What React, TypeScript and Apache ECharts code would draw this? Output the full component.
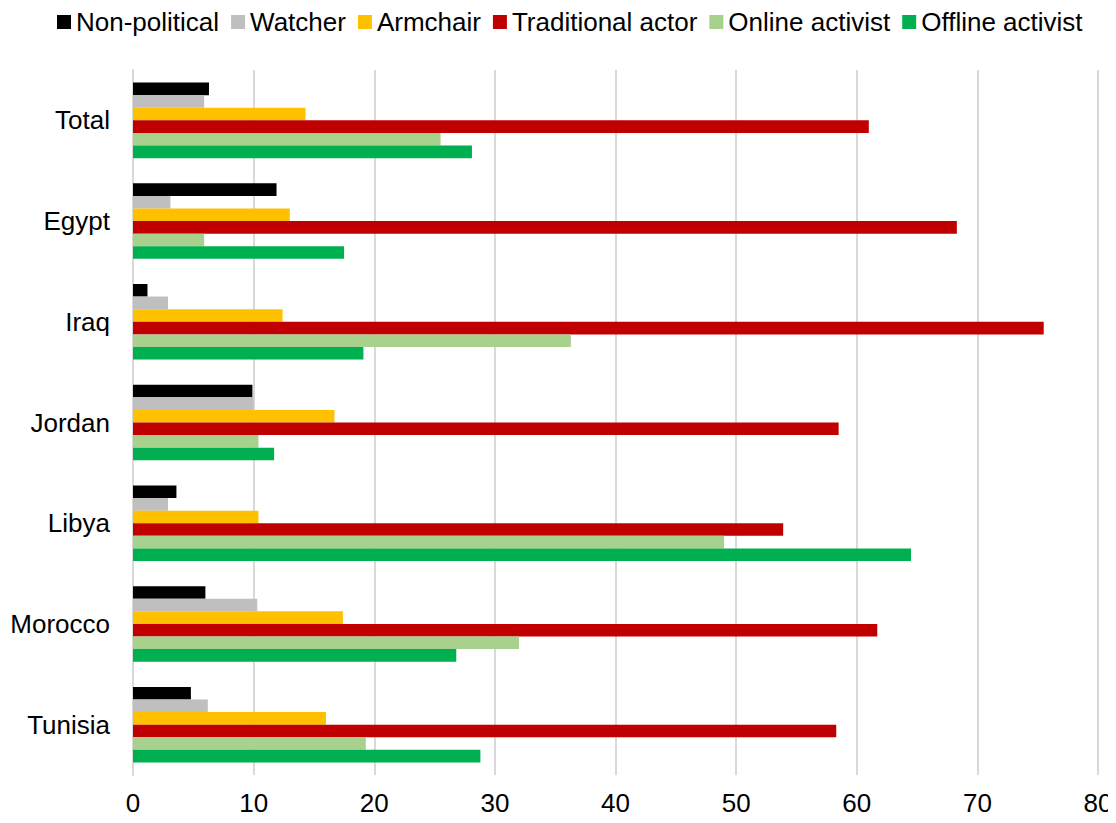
import React, { useEffect, useRef } from "react";
import * as echarts from "echarts";

const categories = ["Total", "Egypt", "Iraq", "Jordan", "Libya", "Morocco", "Tunisia"];
const seriesNames = ["Non-political", "Watcher", "Armchair", "Traditional actor", "Online activist", "Offline activist"];
const colors = ["#000000", "#bfbfbf", "#ffc000", "#c00000", "#a9d18e", "#00b050"];

const nonPolitical = [6.3, 11.9, 1.2, 9.9, 3.6, 6.0, 4.8];
const watcher = [5.9, 3.1, 2.9, 10.0, 2.9, 10.3, 6.2];
const armchair = [14.3, 13.0, 12.4, 16.7, 10.4, 17.4, 16.0];
const traditionalActor = [61.0, 68.3, 75.5, 58.5, 53.9, 61.7, 58.3];
const onlineActivist = [25.5, 5.9, 36.3, 10.4, 49.0, 32.0, 19.3];
const offlineActivist = [28.1, 17.5, 19.1, 11.7, 64.5, 26.8, 28.8];

const xTicks = { min: 0, max: 80, interval: 10 };

export default function App() {
  const ref = useRef<HTMLDivElement>(null);
  useEffect(() => {
    if (!ref.current) return;
    const chart = echarts.init(ref.current, undefined, { renderer: "svg" });
    const data = [nonPolitical, watcher, armchair, traditionalActor, onlineActivist, offlineActivist];
    chart.setOption({
      animation: false,
      textStyle: { fontFamily: "Liberation Sans, Arial, sans-serif" },
      legend: {
        top: 4,
        left: 52,
        itemWidth: 14,
        itemHeight: 14,
        itemGap: 12,
        icon: "rect",
        textStyle: { fontSize: 26, color: "#000", padding: [0, 0, 0, 0] },
        data: seriesNames,
      },
      grid: { left: 133, right: 18, top: 70, bottom: 48 },
      xAxis: {
        type: "value",
        min: xTicks.min,
        max: xTicks.max,
        interval: xTicks.interval,
        axisLine: { show: false },
        axisTick: { show: false },
        axisLabel: { fontSize: 26, color: "#000", margin: 15 },
        splitLine: { show: true, lineStyle: { color: "#d9d9d9", width: 2 } },
      },
      yAxis: {
        type: "category",
        data: categories,
        inverse: true,
        axisLine: { show: true, lineStyle: { color: "#d9d9d9", width: 2 } },
        axisTick: { show: false },
        axisLabel: { fontSize: 26, color: "#000", margin: 23 },
      },
      series: seriesNames.map((name, i) => ({
        name,
        type: "bar",
        data: data[i],
        itemStyle: { color: colors[i] },
        barGap: "0%",
        barCategoryGap: "25%",
      })),
    });
    return () => chart.dispose();
  }, []);
  return <div ref={ref} style={{ width: 1116, height: 823, margin: -8 }} />;
}
